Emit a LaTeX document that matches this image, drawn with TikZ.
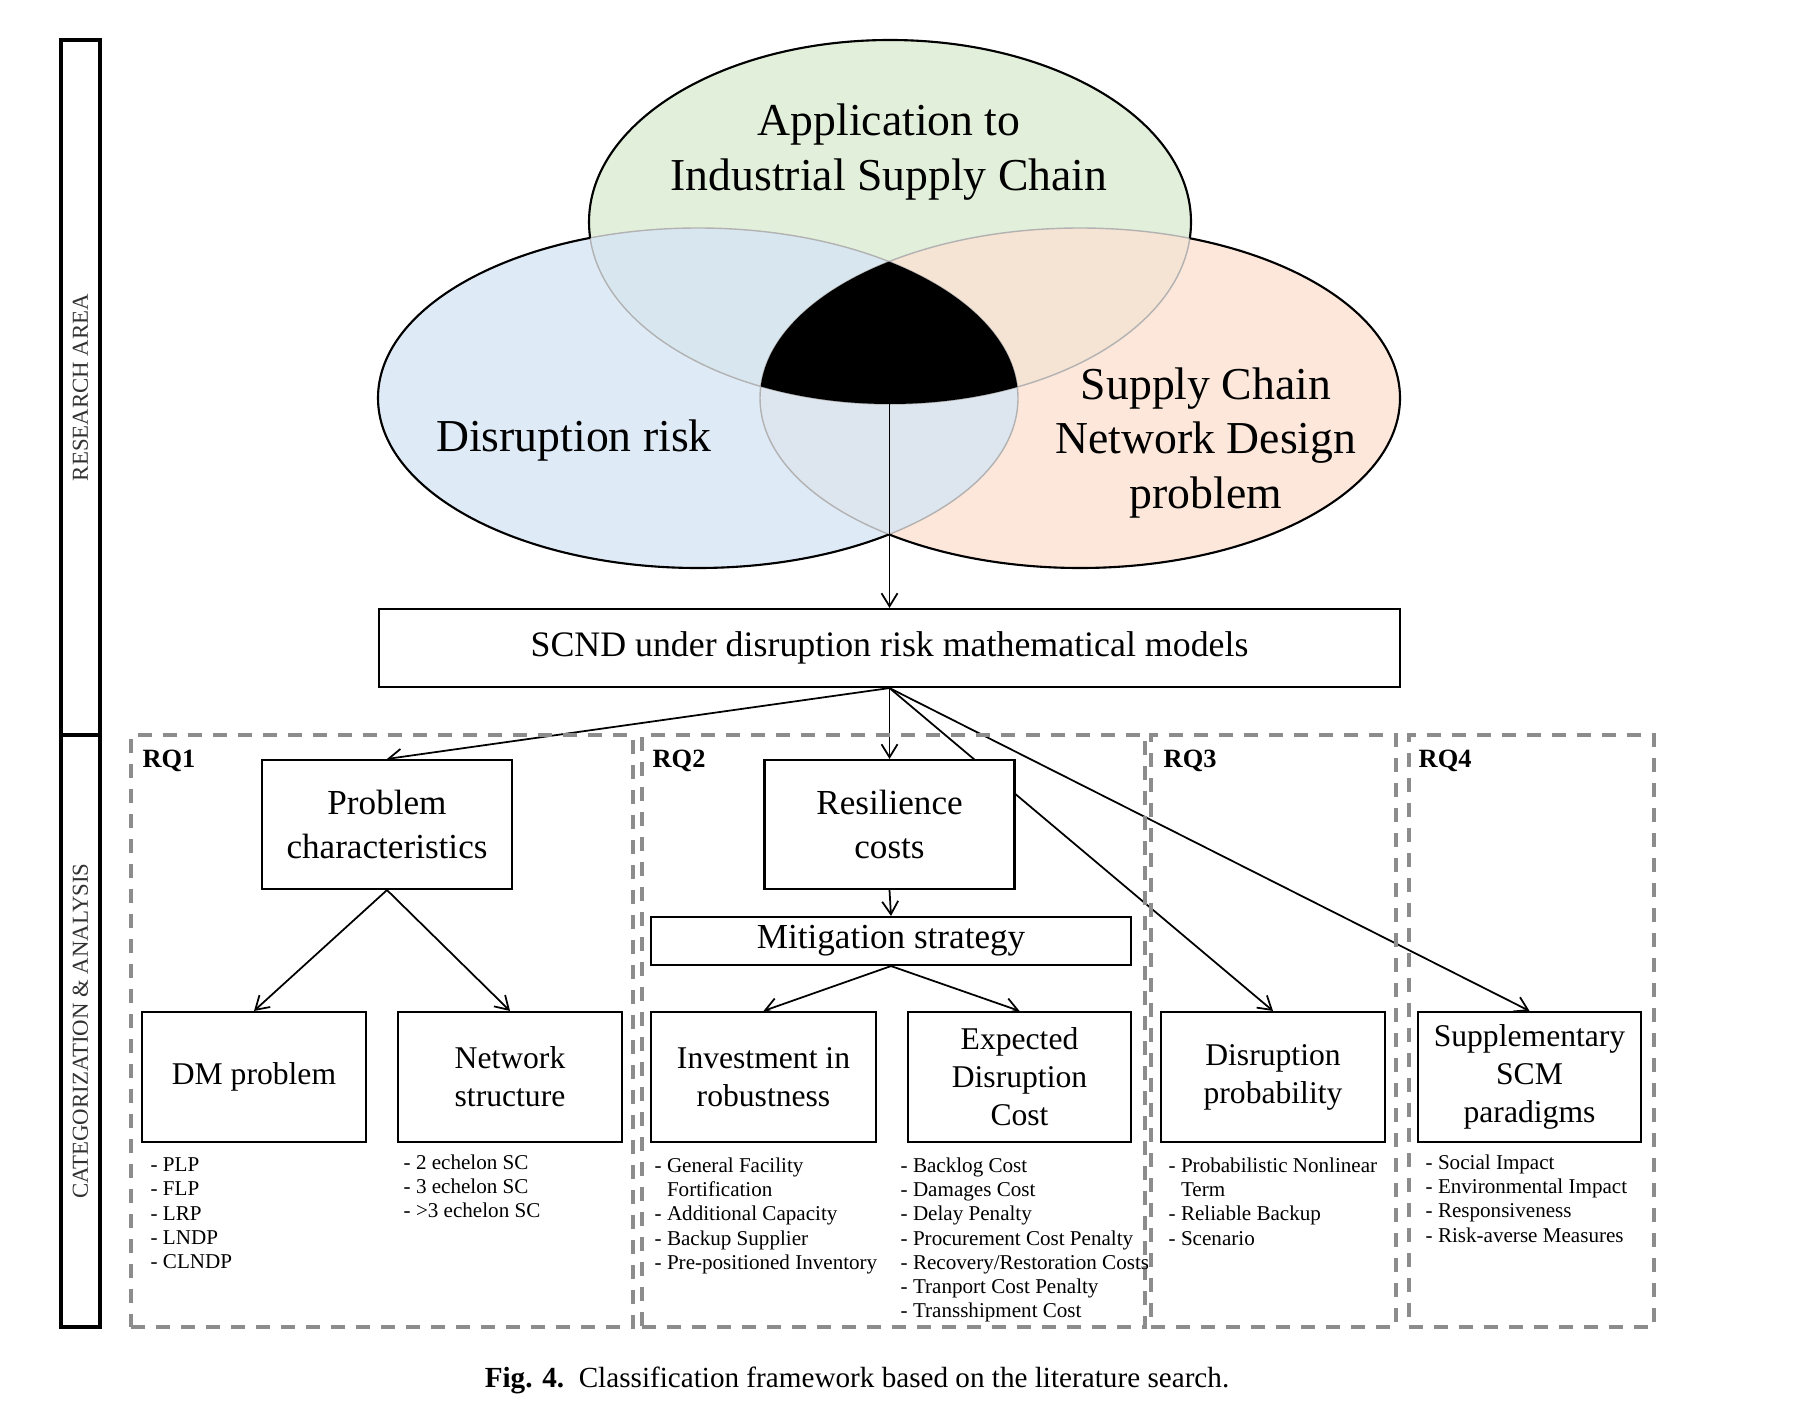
\documentclass[tikz,border=0pt]{standalone}
\usepackage{fontspec}
\setmainfont{Liberation Serif}
\usetikzlibrary{arrows.meta}
\pgfdeclarelayer{bg}
\pgfsetlayers{bg,main}

\definecolor{appgreen}{RGB}{219,235,209}
\definecolor{riskblue}{RGB}{214,229,244}
\definecolor{scndorange}{RGB}{251,225,209}
\definecolor{rqgray}{RGB}{140,140,140}
\definecolor{sidegray}{RGB}{50,50,50}

\tikzset{
	cbox/.style={draw, line width=0.6pt, fill=white, align=center, inner sep=0pt},
	bigbox/.style={cbox, minimum width=2.5cm, minimum height=1.29cm, font=\fontsize{10}{12.5}\selectfont},
	smallbox/.style={cbox, minimum width=2.24cm, minimum height=1.30cm, font=\fontsize{9}{10.8}\selectfont},
	lst/.style={anchor=north west, align=left, inner sep=0pt, font=\fontsize{6}{6.9}\selectfont},
	rq/.style={anchor=west, inner sep=0pt, font=\fontsize{7.5}{9}\selectfont\bfseries},
	rqframe/.style={draw=rqgray, line width=1.2pt, dash pattern=on 1.4mm off 1.1mm, minimum height=5.92cm, inner sep=0pt},
	sidebox/.style={draw, line width=1pt, rotate=90, minimum height=0.39cm, inner sep=0pt, text=sidegray, font=\fontsize{6.5}{8}\selectfont},
	link/.style={line width=0.5pt, -{Straight Barb[length=1.3mm,width=1.6mm]}},
	venn/.style={font=\fontsize{13}{15.5}\selectfont, align=center},
}

\begin{document}
\begin{tikzpicture}
	\useasboundingbox (0,0) rectangle (18.10,-14.06);
	
	% research area: venn
	\fill[appgreen, fill opacity=0.8] (8.90,-2.22) ellipse (3.01 and 1.82);
	\fill[scndorange, fill opacity=0.8] (10.80,-3.98) ellipse (3.20 and 1.70);
	\fill[riskblue, fill opacity=0.8] (6.98,-3.98) ellipse (3.20 and 1.70);
	\draw[black!30, line width=0.4pt] (8.90,-2.22) ellipse (3.01 and 1.82) (10.80,-3.98) ellipse (3.20 and 1.70) (6.98,-3.98) ellipse (3.20 and 1.70);
	\begin{scope}
		\clip (-1,1) -- (20,1) -- (20,-15) -- (-1,-15) -- cycle (6.98,-3.98) ellipse (3.20 and 1.70);
		\clip (-1,1) -- (20,1) -- (20,-15) -- (-1,-15) -- cycle (10.80,-3.98) ellipse (3.20 and 1.70);
		\draw[line width=0.6pt] (8.90,-2.22) ellipse (3.01 and 1.82);
	\end{scope}
	\begin{scope}
		\clip (-1,1) -- (20,1) -- (20,-15) -- (-1,-15) -- cycle (8.90,-2.22) ellipse (3.01 and 1.82);
		\clip (-1,1) -- (20,1) -- (20,-15) -- (-1,-15) -- cycle (10.80,-3.98) ellipse (3.20 and 1.70);
		\draw[line width=0.6pt] (6.98,-3.98) ellipse (3.20 and 1.70);
	\end{scope}
	\begin{scope}
		\clip (-1,1) -- (20,1) -- (20,-15) -- (-1,-15) -- cycle (8.90,-2.22) ellipse (3.01 and 1.82);
		\clip (-1,1) -- (20,1) -- (20,-15) -- (-1,-15) -- cycle (6.98,-3.98) ellipse (3.20 and 1.70);
		\draw[line width=0.6pt] (10.80,-3.98) ellipse (3.20 and 1.70);
	\end{scope}
	\begin{scope}
		\clip (8.90,-2.22) ellipse (3.01 and 1.82);
		\clip (6.98,-3.98) ellipse (3.20 and 1.70);
		\fill (10.80,-3.98) ellipse (3.20 and 1.70);
	\end{scope}
	\coordinate (core) at (8.895,-4.04);
	
	\node[venn] (app) at (8.89,-1.52) {Application to\\Industrial Supply Chain};
	\node[venn] (risk) at (5.74,-4.41) {Disruption risk};
	\node[venn] (scnd) at (12.06,-4.43) {Supply Chain\\Network Design\\problem};
	
	\node[cbox, minimum width=10.21cm, minimum height=0.78cm, font=\fontsize{10.2}{12}\selectfont] (models) at (8.895,-6.48) {SCND under\ disruption\ risk\ mathematical\ models};
	\draw[link] (core) -- (models.north);
	
	% side bar
	\node[sidebox, minimum width=6.95cm] (area) at (0.805,-3.875) {RESEARCH\ AREA};
	\node[sidebox, minimum width=5.92cm] (categ) at (0.805,-10.31) {CATEGORIZATION \& ANALYSIS};
	
	% research questions
	\node[rqframe, minimum width=5.02cm] (rqa) at (3.82,-10.31) {};
	\node[rqframe, minimum width=5.03cm] (rqb) at (8.935,-10.31) {};
	\node[rqframe, minimum width=2.45cm] (rqc) at (12.735,-10.31) {};
	\node[rqframe, minimum width=2.45cm] (rqd) at (15.315,-10.31) {};
	\node[rq] (rqaname) at (1.42,-7.61) {RQ1};
	\node[rq] (rqbname) at (6.52,-7.61) {RQ2};
	\node[rq] (rqcname) at (11.63,-7.61) {RQ3};
	\node[rq] (rqdname) at (14.18,-7.61) {RQ4};
	
	\node[bigbox] (prob) at (3.87,-8.245) {Problem\\characteristics};
	\node[bigbox] (resil) at (8.895,-8.245) {Resilience\\costs};
	\node[cbox, minimum width=4.80cm, minimum height=0.48cm, font=\fontsize{10}{12}\selectfont] (mitig) at (8.91,-9.41) {Mitigation\ strategy};
	
	\node[smallbox] (dm) at (2.54,-10.77) {DM problem};
	\node[smallbox] (net) at (5.10,-10.77) {Network\\structure};
	\node[smallbox, minimum width=2.25cm] (inv) at (7.635,-10.77) {Investment in\\robustness};
	\node[smallbox, minimum width=2.23cm] (exp) at (10.195,-10.77) {Expected\\Disruption\\Cost};
	\node[smallbox] (dprob) at (12.73,-10.77) {Disruption\\probability};
	\node[smallbox, minimum width=2.23cm] (supp) at (15.295,-10.77) {Supplementary\\SCM\\paradigms};
	
	\node[lst] (dmlist) at (1.50,-11.57) {- PLP\\- FLP\\- LRP\\- LNDP\\- CLNDP};
	\node[lst] (netlist) at (4.03,-11.54) {- 2 echelon SC\\- 3 echelon SC\\- >3 echelon SC};
	\node[lst] (invlist) at (6.54,-11.57) {- General Facility\\\phantom{- }Fortification\\- Additional\ Capacity\\- Backup Supplier\\- Pre-positioned Inventory};
	\node[lst] (explist) at (9.00,-11.57) {- Backlog Cost\\- Damages Cost\\- Delay\ Penalty\\- Procurement Cost Penalty\\- Recovery/Restoration Costs\\- Tranport Cost Penalty\\- Transshipment Cost};
	\node[lst] (dproblist) at (11.68,-11.57) {- Probabilistic Nonlinear\\\phantom{- }Term\\- Reliable\ Backup\\- Scenario};
	\node[lst] (supplist) at (14.25,-11.54) {- Social Impact\\- Environmental\ Impact\\- Responsiveness\\- Risk-averse Measures};
	
	\begin{pgfonlayer}{bg}
		\draw[link] (models.south) -- (prob.north);
		\draw[link] (models.south) -- (resil.north);
		\draw[link] (models.south) -- (dprob.north);
		\draw[link] (models.south) -- (supp.north);
		\draw[link] (prob.south) -- (dm.north);
		\draw[link] (prob.south) -- (net.north);
		\draw[link] (resil.south) -- (mitig.north);
		\draw[link] (mitig.south) -- (inv.north);
		\draw[link] (mitig.south) -- (exp.north);
	\end{pgfonlayer}
	
	\node[font=\fontsize{8.3}{10}\selectfont] (caption) at (8.57,-13.80) {\textbf{Fig. 4.}\ \ Classification framework based on the literature search.};
\end{tikzpicture}
\end{document}
